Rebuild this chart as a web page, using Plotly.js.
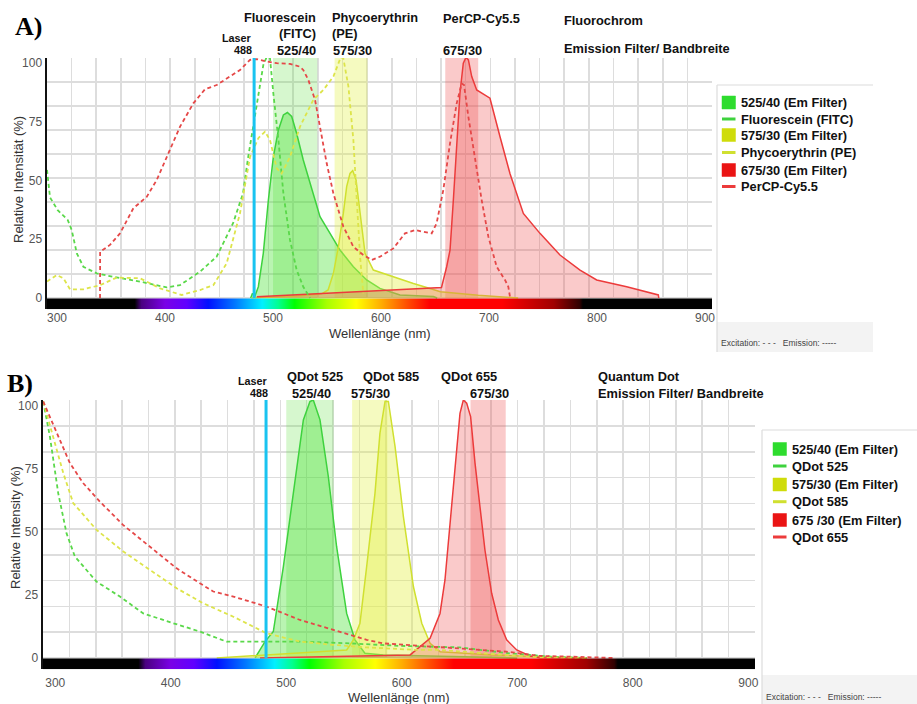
<!DOCTYPE html>
<html><head><meta charset="utf-8">
<script src="https://cdn.plot.ly/plotly-3.0.1.min.js"></script>
<style>html,body{margin:0;padding:0;background:#fff;}#chart{width:917px;height:704px;}</style>
</head><body><div id="chart"></div>
<script>
// ---------------- DATA ----------------
// Panel A: Fluorochromes (wavelength nm, relative intensity %)
const fitcExNm  = [290.7,293.5,300.6,309.9,313.6,318.3,324.4,336.7,352,376.9,401.5,413.9,432.4,447.8,463,472.2,476.8,481.8,486.4,491,494,497.2,500.3,505,509.6,515.7,521.9,528,534.3];
const fitcExVal = [54.5,42.8,37.4,33.2,28.9,19,13.3,10.5,9,7,4.5,5.5,11.2,17.6,31.8,44.5,59.4,72.9,87,99.1,102.4,102,87,67.2,44.5,24.7,11.9,4.8,0];
const fitcEmNm  = [479.3,481,483,486.4,491,495.7,500.3,505,509.6,513.3,517.3,521.9,528,535.8,543.5,552.8,562,574.4,586.7,599,617.6,648.5,652];
const fitcEmVal = [0,2,0.5,4.8,19,41.7,60,71.5,77.9,78.9,77.2,70,58.7,46,34.6,27.5,20.4,13.3,7.7,4.1,1.3,0.6,0];
const peExNm  = [290.7,299.7,305.9,312,324.4,340,355.2,376.9,395.4,415.4,432.4,444.8,457.1,469.4,478.7,486.4,492.6,497.2,503.4,508,515.7,525,537.3,546.6,555.9,560.5,562.7,565.1,569.8,574.4,577.5,580.6,583.6];
const peExVal = [7,9.8,8.4,3.7,3.7,5.5,8.7,8.4,4.1,1.3,3.4,5.5,14.8,36,60,68,70.8,67.2,55.2,53,60,72.9,84.3,88.5,94.2,99.9,102.4,102,90,67.2,44.5,17.6,2];
const peEmNm  = [480,520,545,551,555.9,560.5,565.1,568.2,571.3,573.8,576.9,580.6,585.2,592.9,611.4,630,642.3,655,690,727];
const peEmVal = [0,0.8,1.8,3.4,10.5,21.8,36,47.4,53,54.2,50.2,36,19,11.9,9,6.2,4.5,2.7,1.2,0];
const perExNm  = [339.8,339.9,349,358.3,370.7,383,392.3,401.5,413.9,426.2,437,447.8,460.2,469.4,478.7,484.9,494.1,503.4,515.7,525,528,532.7,538.9,543.5,549.7,555.9,565.1,574.4,583.6,591.4,599.1,611.4,622.2,631.5,646.9,651.5,657.7,663.9,670.1,674.7,676.9,680.9,687,693.2,699.4,707.1,714.8,717.9,719.4];
const perExVal = [0,19.7,22.6,27.5,38.2,43,50.2,60.1,72.9,82.8,88.8,90.6,94.2,97,101.3,101.6,100.6,99.9,99.6,98.4,97,92.8,84.3,72.9,57.3,44.5,30.4,21.8,18.3,16.2,17.6,21.1,27.5,28.9,27.5,31.8,46,65.8,82.8,91.3,90.6,77.1,58.7,41.7,26.1,13.3,7.7,4.8,0.6];
const perEmNm  = [485,656,660.8,663.9,667,670.1,673.1,676.2,678.7,680.9,684,688.6,700.9,710.2,719.4,731.8,747.2,765.7,784.3,799.7,827.5,856.8,857.2];
const perEmVal = [0.5,4.5,13.3,20.4,41.7,65.8,87.1,99.9,102.4,101.3,94.2,88.5,85,68.6,53,36,27.5,18.3,11.9,7.7,4.8,1.3,0];

// Panel B: Quantum dots
const qd525ExNm  = [289.6,295.4,302.6,309.8,317,327.1,335.8,356,376.2,402.2,425.2,448.3,468.5,511.9,555.2,598.5,650.4,690,730,760];
const qd525ExVal = [101.9,87.9,65.4,49.5,40.3,35,30.3,24.4,17.7,13.8,10.5,6.5,6.5,6.5,5.8,4.8,4.2,2,0.5,0];
const qd585ExNm  = [289.6,298.3,307,315.6,335.8,358.9,382,405.1,428.2,454.2,483,511.9,540.7,569.6,612.9,633,690.8,719.6,760];
const qd585ExVal = [101.9,87.9,73.4,61.5,50.9,42.3,35,27.7,21.7,16.4,9.8,6.5,5.2,4.2,3.2,3.2,1.2,0.3,0];
const qd655ExNm  = [289.6,295.4,304,312.7,324.3,338.7,358.9,382,405.1,425.2,436.8,454.2,483,511.9,540.7,569.6,584,612.9,633,661.9,690.8,719.6,748.5,783];
const qd655ExVal = [101.9,95.9,86.6,77.4,69.4,62.1,52.8,44.2,35.6,29.7,26.4,24.4,20.4,15.1,11.1,7.2,5.8,4.8,4.1,3.4,2.5,0.8,0.5,0];
const qd525EmNm  = [473,481.6,488.8,497.5,506.1,514.8,520.5,523.4,529.2,536.4,543.6,552.3,559.5,568.1,584,640,700];
const qd525EmVal = [0,6.5,10.5,36.3,65.4,94.6,101.9,102.5,94.6,72.1,44.2,17.7,7.2,1.9,1.2,0.6,0];
const qd585EmNm  = [439.8,552.3,558.1,563.8,569.6,576.8,581.1,585.5,588.4,594.2,601.4,610.1,617.3,624.5,633.2,680,719.6,760];
const qd585EmVal = [0,3.2,7.2,13.8,36.3,65.4,89.3,101.9,101.9,84,56.2,28.3,13.8,5.8,2.5,1.2,0.5,0];
const qd655EmNm  = [477.3,607.2,624.5,633.1,637.4,641.8,646.1,650.4,653.3,656.2,659.6,663.4,667.7,672,677.8,683.6,690.8,699.5,711,719.6,760];
const qd655EmVal = [0,1.2,7.8,17.7,31,53.5,77.4,97.2,102.5,101.2,95.9,77.4,60.1,42.9,25.7,15.1,7.2,3.2,0.8,0.1,0];

// Emission filters (low / high edge, nm) and laser line
const filterLow  = [500, 557, 659.5];
const filterHigh = [541, 587.5, 690];
const laserNm = [482.5];

// Visible spectrum bar (wavelength stops)
const specNm  = [290,372,378,400,420,440,465,490,505,520,550,577,600,625,645,712,760,784,787,910];
const specCol = ['#000000','#000000','#4a0080','#7a00e6','#6000ff','#0010ff','#0078ff','#00f0ff','#00ff90','#00ff00','#a8ff00','#ffff00','#ffae00','#ff4a00','#ff0000','#ff0000','#a00000','#300000','#000000','#000000'];

const xTicks = [300,400,500,600,700,800,900];
const yTicks = [0,25,50,75,100];

const legendA = ['525/40 (Em Filter)','Fluorescein (FITC)','575/30 (Em Filter)','Phycoerythrin (PE)','675/30 (Em Filter)','PerCP-Cy5.5'];
const legendB = ['525/40 (Em Filter)','QDot 525','575/30 (Em Filter)','QDot 585','675 /30 (Em Filter)','QDot 655'];

// ---------------- STYLE / LAYOUT ----------------
const W=917,H=704;
const PX=x=>x/W, PY=y=>1-y/H;
const rangeA=[290.7,906.5], rangeB=[289.4,905.8];
const yRangeA=[-4.8,102.1], yRangeB=[-4.5,102.5];
const bandCol = ['rgba(90,225,60,0.25)','rgba(225,238,60,0.32)','rgba(240,80,80,0.30)'];
const fillCol = ['rgba(70,225,50,0.38)','rgba(228,240,70,0.40)','rgba(240,80,80,0.30)'];
const lineCol = ['#3ed23e','#d0e030','#ec3b3b'];
const dashCol = ['#5ad84a','#dde44a','#e54848'];
const swatchCol = ['#2edc2e','#cfdc0a','#ea1414'];

function specScale(r){
  const s = specNm.map((n,i)=>[Math.min(1,Math.max(0,(n-r[0])/(r[1]-r[0]))), specCol[i]]);
  s[0][0]=0; s[s.length-1][0]=1;
  return s;
}

function panel(xa, ya, xr, yr, ex, em){
  const tr=[];
  const top = yr[1];
  for(let i=0;i<3;i++){
    tr.push({type:'scatter', xaxis:xa, yaxis:ya, mode:'lines', hoverinfo:'skip', showlegend:false,
      x:[filterLow[i],filterHigh[i],filterHigh[i],filterLow[i],filterLow[i]], y:[0,0,top,top,0],
      fill:'toself', fillcolor:bandCol[i], line:{width:0}});
  }
  for(let i=0;i<3;i++){
    tr.push({type:'scatter', xaxis:xa, yaxis:ya, mode:'lines', hoverinfo:'skip', showlegend:false,
      x:em[i][0], y:em[i][1], fill:'tozeroy', fillcolor:fillCol[i], line:{color:lineCol[i], width:1.5}});
  }
  for(let i=0;i<3;i++){
    tr.push({type:'scatter', xaxis:xa, yaxis:ya, mode:'lines', hoverinfo:'skip', showlegend:false,
      x:ex[i][0], y:ex[i][1], line:{color:dashCol[i], width:1.8, dash:'4px,3px'}});
  }
  tr.push({type:'scatter', xaxis:xa, yaxis:ya, mode:'lines', hoverinfo:'skip', showlegend:false,
    x:[laserNm[0],laserNm[0]], y:[0,top], line:{color:'#19c3f0', width:3}});
  tr.push({type:'scatter', xaxis:xa, yaxis:ya, mode:'lines', hoverinfo:'skip', showlegend:false,
    x:[xr[0],xr[1],xr[1],xr[0],xr[0]], y:[yr[0],yr[0],-0.2,-0.2,yr[0]], fill:'toself',
    fillgradient:{type:'horizontal', colorscale:specScale(xr), start:xr[0], stop:xr[1]}, line:{width:0}});
  return tr;
}

const traces = [
  ...panel('x','y',rangeA,yRangeA,
    [[fitcExNm,fitcExVal],[peExNm,peExVal],[perExNm,perExVal]],
    [[fitcEmNm,fitcEmVal],[peEmNm,peEmVal],[perEmNm,perEmVal]]),
  ...panel('x2','y2',rangeB,yRangeB,
    [[qd525ExNm,qd525ExVal],[qd585ExNm,qd585ExVal],[qd655ExNm,qd655ExVal]],
    [[qd525EmNm,qd525EmVal],[qd585EmNm,qd585EmVal],[qd655EmNm,qd655EmVal]])
];

const sans = 'Liberation Sans, Arial, sans-serif';
const tickFont = {family:sans, size:12, color:'#555'};
const titleFont = {family:sans, size:13, color:'#333'};
const gridCol = '#dddddd';

function xAxis(dom, r, anchor, lso){
  return {domain:dom, range:r, anchor:anchor, tickvals:xTicks, ticks:'', showgrid:false, zeroline:false,
    showline:false, tickfont:tickFont, fixedrange:true, ticklabelstandoff:lso,
    minor:{tick0:r[0], dtick:(r[1]-r[0])/27-0.001, showgrid:true, gridcolor:gridCol, gridwidth:1.6, ticks:''}};
}
function yAxis(dom, r, anchor){
  return {domain:dom, range:r, anchor:anchor, tickvals:yTicks, ticks:'', showgrid:false, zeroline:false,
    showline:true, linecolor:'#111', linewidth:2.5, tickfont:tickFont, fixedrange:true,
    minor:{tick0:0, dtick:r[1]/10-0.01, showgrid:true, gridcolor:gridCol, gridwidth:1.6, ticks:''}};
}

const hFont = {family:sans, size:12.8, color:'#111', weight:'bold'};
const sFont = {family:sans, size:10.8, color:'#111', weight:'bold'};
const serifFont = {family:'Liberation Serif, Times New Roman, serif', size:26, color:'#000', weight:'bold'};
function ann(text,x,y,anchor,font,angle){
  return {text:text, x:PX(x), y:PY(y), xref:'paper', yref:'paper', xanchor:anchor, yanchor:'middle',
    showarrow:false, font:font||hFont, borderpad:0, textangle:angle||0};
}
const annotations = [
  ann('Wellenlänge (nm)',379.5,333,'center',titleFont),
  ann('Wellenlänge (nm)',399,697.5,'center',titleFont),
  ann('Relative Intensität (%)',19,180,'center',titleFont,-90),
  ann('Relative Intensity (%)',15,528,'center',titleFont,-90),
  ann('A)',28,26,'center',serifFont),
  ann('Fluorescein',317,18,'right'), ann('(FITC)',317,33,'right'), ann('525/40',276,50,'left'),
  ann('Laser',253,38,'right',sFont), ann('488',253,50,'right',sFont),
  ann('Phycoerythrin',331,18,'left'), ann('(PE)',331,33,'left'), ann('575/30',332,50,'left'),
  ann('PerCP-Cy5.5',442,18.5,'left'), ann('675/30',442,50,'left'),
  ann('Fluorochrom',563,20,'left'), ann('Emission Filter/ Bandbreite',563,49,'left'),
  ann('B)',20,383,'center',serifFont),
  ann('Laser',269,381,'right',sFont), ann('488',269,393,'right',sFont),
  ann('QDot 525',286,376,'left'), ann('525/40',291,393,'left'),
  ann('QDot 585',362,376,'left'), ann('575/30',350,393,'left'),
  ann('QDot 655',440,376,'left'), ann('675/30',469,393,'left'),
  ann('Quantum Dot',597,376,'left'), ann('Emission Filter/ Bandbreite',597,393,'left'),
  ann('Excitation: - - -   Emission: -----',720,343,'left',{family:sans,size:8.5,color:'#444'}),
  ann('Excitation: - - -   Emission: -----',765,697,'left',{family:sans,size:8.5,color:'#444'})
];

const shapes = [];
function rectPx(x0,y0,x1,y1,fill,lc,lw){
  shapes.push({type:'rect', xref:'paper', yref:'paper', x0:PX(x0), x1:PX(x1), y0:PY(y1), y1:PY(y0),
    fillcolor:fill, line:{color:lc||'rgba(0,0,0,0)', width:lw||0}, layer:'above'});
}
function linePx(x0,y0,x1,y1,col,w){
  shapes.push({type:'line', xref:'paper', yref:'paper', x0:PX(x0), x1:PX(x1), y0:PY(y0), y1:PY(y1),
    line:{color:col, width:w}, layer:'above'});
}
// legend boxes
rectPx(717,322,873,352,'#f3f3f3');
linePx(717,85,873,85,'#dcdcdc',1.2); linePx(717,85,717,352,'#dcdcdc',1.2);
rectPx(762,675,917,704,'#f3f3f3');
linePx(762,430,917,430,'#dcdcdc',1.2); linePx(762,430,762,704,'#dcdcdc',1.2);

function legend(labels, x0, rows, txtX){
  labels.forEach((lab,i)=>{
    const c = Math.floor(i/2), y = rows[i];
    if(i%2===0){ rectPx(x0, y-6.5, x0+13.5, y+6.5, swatchCol[c], swatchCol[c], 0.5); }
    else { linePx(x0, y, x0+13.5, y, lineCol[c], 3); }
    annotations.push(ann(lab, txtX, y, 'left', hFont));
  });
}
legend(legendA, 722, [102.5,119,135,152.5,170,186.5], 740);
legend(legendB, 773, [449,466,484.5,501.7,520,537], 791);

const layout = {
  width:W, height:H, margin:{l:0,r:0,t:0,b:0}, paper_bgcolor:'#fff', plot_bgcolor:'#fff',
  showlegend:false,
  xaxis: xAxis([PX(47),PX(712)], rangeA, 'y', 0),
  yaxis: yAxis([PY(309.3),PY(58)], yRangeA, 'x'),
  xaxis2: xAxis([PX(43),PX(755)], rangeB, 'y2', 5),
  yaxis2: yAxis([PY(669.3),PY(400)], yRangeB, 'x2'),
  annotations: annotations, shapes: shapes
};
Plotly.newPlot('chart', traces, layout, {staticPlot:true, displayModeBar:false});
</script></body></html>
